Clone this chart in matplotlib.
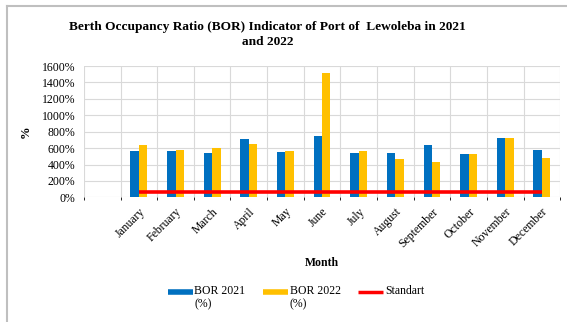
import numpy as np
import matplotlib
matplotlib.use('Agg')
import matplotlib.pyplot as plt
from matplotlib.lines import Line2D
from matplotlib.legend_handler import HandlerLine2D

# Data
months = ['January', 'February', 'March', 'April', 'May', 'June', 'July',
          'August', 'September', 'October', 'November', 'December']
bor_2021 = [561, 568, 540, 707, 550, 748, 540, 540, 638, 532, 723, 577]
bor_2022 = [638, 577, 601, 650, 561, 1512, 561, 471, 434, 524, 723, 483]
standart = [70] * 12
yticks = list(range(0, 1601, 200))

blue = '#0070C0'
yellow = '#FFC000'
red = '#FF0000'
grid_c = '#D9D9D9'

plt.rcParams['font.family'] = ['Liberation Serif', 'DejaVu Serif']

fig = plt.figure(figsize=(5.67, 3.22), dpi=100)
ax = fig.add_axes([0.148, 0.387, 0.840, 0.408])

# one empty category slot on the left, like the original chart
x = np.arange(1, len(months) + 1)
w = 0.23
ax.bar(x - w / 2, bor_2021, width=w, color=blue, zorder=2)
ax.bar(x + w / 2, bor_2022, width=w, color=yellow, zorder=2)
ax.plot(x, standart, color=red, lw=2.6, zorder=3, solid_capstyle='butt')

ax.set_xlim(-0.5, len(months) + 0.5)
ax.set_ylim(0, 1600)
ax.set_yticks(yticks)
ax.set_yticklabels([f'{v}%' for v in yticks], fontsize=8.5)
ax.set_xticks(x)
ax.set_xticklabels(months, rotation=45, ha='right', rotation_mode='anchor', fontsize=8.5)
ax.tick_params(axis='both', length=0)
ax.tick_params(axis='x', pad=6)
ax.tick_params(axis='y', pad=6)

# gridlines: horizontal at each tick, vertical between categories
ax.set_xticks(np.arange(-0.5, len(months) + 1, 1), minor=True)
ax.grid(axis='y', which='major', color=grid_c, lw=0.8, zorder=0)
ax.grid(axis='x', which='minor', color=grid_c, lw=0.8, zorder=0)
for s in ax.spines.values():
    s.set_visible(False)

ax.set_ylabel('%', fontsize=9, fontweight='bold', labelpad=7)
ax.set_xlabel('Month', fontsize=8.5, fontweight='bold', labelpad=5)

fig.text(0.472, 0.892, 'Berth Occupancy Ratio (BOR) Indicator of Port of  Lewoleba in 2021\nand 2022',
         ha='center', va='center', fontsize=9.6, fontweight='bold', linespacing=1.3)

# legend (handle aligned with the first line of the label)
class UpHandler(HandlerLine2D):
    def create_artists(self, legend, orig_handle, xdescent, ydescent, width, height, fontsize, trans):
        return super().create_artists(legend, orig_handle, xdescent, ydescent - 1.1 * fontsize,
                                      width, height, fontsize, trans)

handles = [Line2D([], [], color=blue, lw=4, solid_capstyle='butt'),
           Line2D([], [], color=yellow, lw=4, solid_capstyle='butt'),
           Line2D([], [], color=red, lw=2.5, solid_capstyle='butt')]
labels = ['BOR 2021\n(%)', 'BOR 2022\n(%)', 'Standart\n ']
fig.legend(handles, labels, loc='center', bbox_to_anchor=(0.522, 0.075), ncol=3, frameon=False,
           fontsize=8.5, handlelength=2.1, handletextpad=0.15, columnspacing=1.5,
           handler_map={h: UpHandler() for h in handles})

# border of the original figure
fig.add_artist(Line2D([0.012, 0.012], [0, 0.981], color='#BFBFBF', lw=1.5, transform=fig.transFigure))
fig.add_artist(Line2D([0.012, 1], [0.981, 0.981], color='#BFBFBF', lw=1.5, transform=fig.transFigure))

fig.savefig('out.png', dpi=100)
